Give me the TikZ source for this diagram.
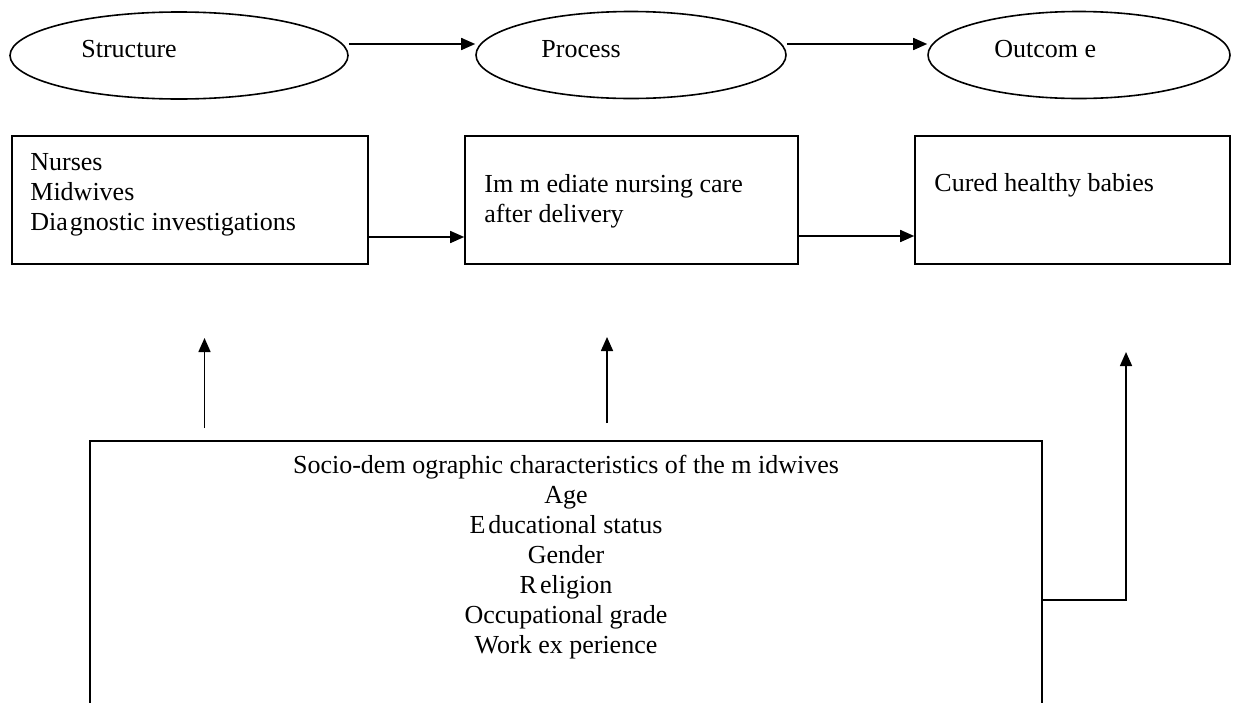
\documentclass[tikz,border=0pt]{standalone}
\usepackage{fontspec}
\setmainfont{Liberation Serif}
\usetikzlibrary{shapes.geometric, arrows.meta}

\begin{document}
\begin{tikzpicture}[
x=0.5pt, y=-0.5pt,
every node/.style = {font=\fontsize{13}{15}\selectfont},
oval/.style = {draw, ellipse, line width=0.8pt, minimum height=43.5pt, inner sep=0pt},
box/.style = {draw, rectangle, line width=0.8pt, minimum height=64pt, inner sep=0pt},
box text/.style = {align=left, inner sep=0pt, anchor=north west},
oval label/.style = {anchor=base west, inner sep=0pt},
flow/.style = {-{Triangle[length=7pt, width=6pt]}, line width=0.8pt}
]

\useasboundingbox (0,0) rectangle (1234,702);
\clip (0,0) rectangle (1234,702);

\node (structure) at (179,55.5) [oval, minimum width=169pt] {};
\node (process) at (631,55) [oval, minimum width=155pt] {};
\node (outcome) at (1079,55) [oval, minimum width=151pt] {};

\node (structure label) at (81,57) [oval label] {Structure};
\node (process label) at (541,57) [oval label] {Process};
\node (outcome label) at (994,57) [oval label] {Outcom e};

\draw[flow] ([yshift=5.75pt]structure.east) -- ([yshift=5.5pt]process.west);
\draw[flow] ([yshift=5.5pt]process.east) -- ([yshift=5.5pt]outcome.west);

\node (nurses) at (190,200) [box, minimum width=178pt] {};
\node (care) at (631.5,200) [box, minimum width=166.5pt] {};
\node (cured) at (1072.5,200) [box, minimum width=157.5pt] {};

\node (nurses text) at (30,153) [box text] {Nurses\\Midwives\\Dia\kern1pt gnostic investigations};
\node (care text) at (484,174) [box text] {Im m ediate nursing care\\after delivery};
\node (cured text) at (934,173) [box text] {Cured healthy babies};

\draw[flow] ([yshift=-18.5pt]nurses.east) -- ([yshift=-18.5pt]care.west);
\draw[flow] ([yshift=-18pt]care.east) -- ([yshift=-18pt]cured.west);

\node (socio) at (566,600) [box, minimum width=476pt, minimum height=159pt] {};
\node (socio text) at (566,455) [anchor=north, align=center, inner sep=0pt] {Socio-dem ographic characteristics of the m idwives\\Age\\E\kern1.5pt ducational status\\Gender\\R\kern1.5pt eligion\\Occupational grade\\Work ex perience};

\coordinate (structure tip) at (204.5,338);
\coordinate (structure foot) at (204.5,428);
\coordinate (process tip) at (607,337);
\coordinate (process foot) at (607,423);
\coordinate (outcome tip) at (1126,352);

\draw[flow] (structure foot) -- (structure tip);
\draw[flow] (process foot) -- (process tip);
\draw[flow] (socio.east) -| (outcome tip);
\end{tikzpicture}
\end{document}
